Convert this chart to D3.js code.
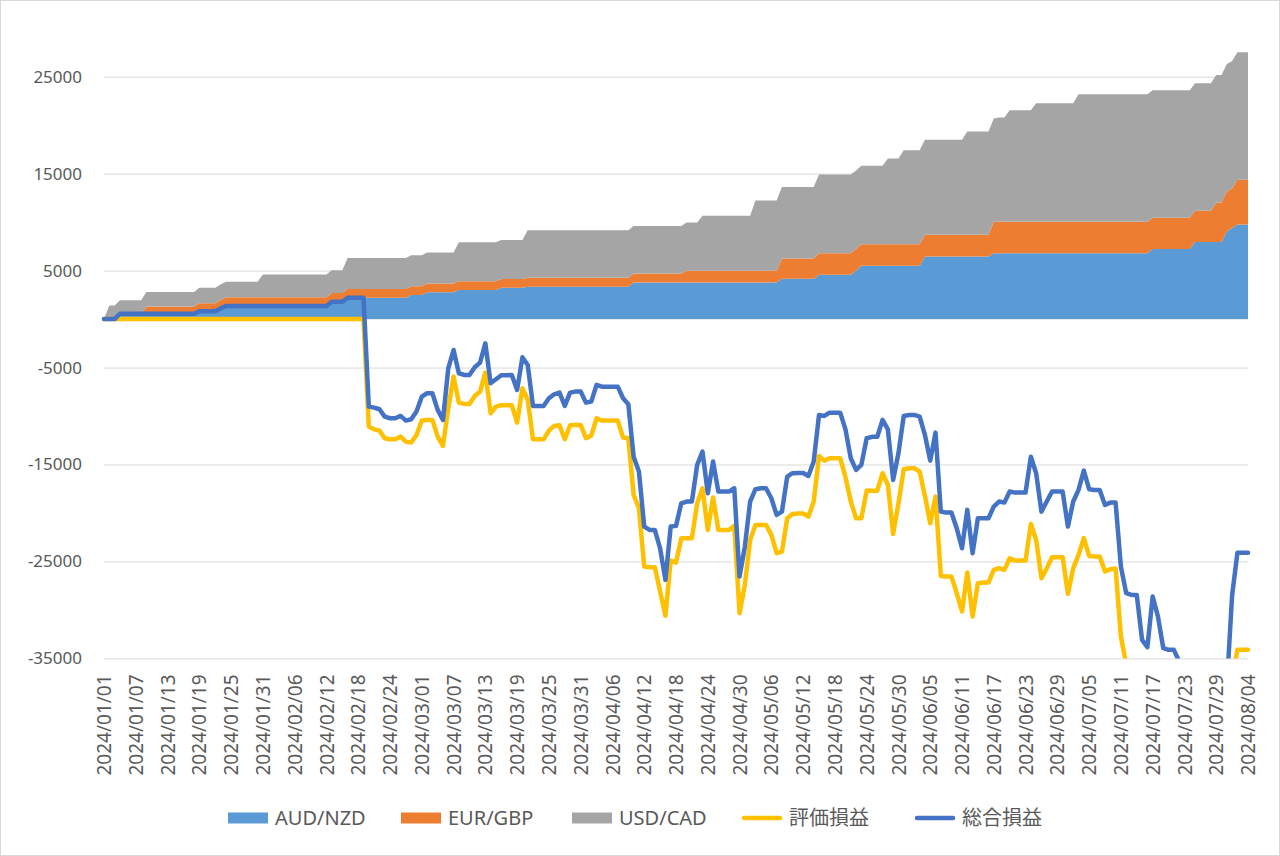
<!DOCTYPE html>
<html>
<head>
<meta charset="utf-8">
<script src="https://cdnjs.cloudflare.com/ajax/libs/d3/7.8.5/d3.min.js"></script>
<style>
    body { margin: 0; background: #fff; }
    svg text { font-family: "Noto Sans", "Noto Sans CJK JP", sans-serif; fill: #595959; }
</style>
</head>
<body>
<svg id="chart"></svg>
<script>
// one value per day, 2024/01/01 .. 2024/08/04 (217 days, 7 per row = one week)
let startDate = new Date(2024, 0, 1)
let endDate = new Date(2024, 7, 5)

let audNzd = [
    0,0,0,550,550,550,550,
    550,550,550,550,550,550,550,
    550,550,550,550,800,800,800,
    800,1100,1350,1350,1350,1350,1350,
    1350,1350,1350,1350,1350,1350,1350,
    1350,1350,1350,1350,1350,1350,1350,
    1350,1780,1780,1780,2200,2200,2200,
    2200,2200,2200,2200,2200,2200,2200,
    2200,2200,2480,2480,2480,2760,2760,
    2760,2760,2760,2760,3000,3000,3000,
    3000,3000,3000,3000,3000,3230,3230,
    3230,3230,3230,3330,3330,3330,3330,
    3330,3330,3330,3330,3330,3330,3330,
    3330,3330,3330,3330,3330,3330,3330,
    3330,3330,3770,3770,3770,3770,3770,
    3770,3770,3770,3770,3770,3770,3770,
    3770,3770,3770,3770,3770,3770,3770,
    3770,3770,3770,3770,3770,3770,3770,
    3770,3770,4150,4150,4150,4150,4150,
    4150,4150,4570,4570,4570,4570,4570,
    4570,4570,5000,5490,5490,5490,5490,
    5490,5490,5490,5490,5490,5490,5490,
    5490,6460,6460,6460,6460,6460,6460,
    6460,6460,6460,6460,6460,6460,6460,
    6800,6800,6800,6800,6800,6800,6800,
    6800,6800,6800,6800,6800,6800,6800,
    6800,6800,6800,6800,6800,6800,6800,
    6800,6800,6800,6800,6800,6800,6800,
    6800,6800,7220,7220,7220,7220,7220,
    7220,7220,7220,7940,7940,7940,7940,
    7940,7940,9070,9400,9750,9750,9750
]

let eurGbp = [
    0,0,0,0,0,0,0,
    0,750,750,750,750,750,750,
    750,750,750,750,820,820,820,
    820,870,900,900,900,900,900,
    900,900,900,900,900,900,900,
    900,900,900,900,900,900,900,
    900,900,900,900,900,900,900,
    900,900,900,900,900,900,900,
    900,900,900,900,900,900,900,
    900,900,900,900,900,900,900,
    900,900,900,900,900,900,900,
    900,900,900,930,930,930,930,
    930,930,930,930,930,930,930,
    930,930,930,930,930,930,930,
    930,930,930,930,930,930,930,
    930,930,930,930,930,1220,1220,
    1220,1220,1220,1220,1220,1220,1220,
    1220,1220,1220,1220,1220,1220,1220,
    1220,1220,2100,2100,2100,2100,2100,
    2100,2100,2230,2230,2230,2230,2230,
    2230,2230,2230,2230,2230,2230,2230,
    2230,2230,2230,2230,2230,2230,2230,
    2230,2230,2230,2230,2230,2230,2230,
    2230,2230,2230,2230,2230,2230,2230,
    3240,3240,3240,3240,3240,3240,3240,
    3240,3240,3240,3240,3240,3240,3240,
    3240,3240,3240,3240,3240,3240,3240,
    3240,3240,3240,3240,3240,3240,3240,
    3240,3240,3240,3240,3240,3240,3240,
    3240,3240,3240,3240,3240,3240,3240,
    4090,4090,4090,4090,4630,4630,4630
]

let usdCad = [
    0,1400,1400,1400,1400,1400,1400,
    1400,1500,1500,1500,1500,1500,1500,
    1500,1500,1500,1500,1600,1600,1600,
    1600,1600,1600,1600,1600,1600,1600,
    1600,1600,2350,2350,2350,2350,2350,
    2350,2350,2350,2350,2350,2350,2350,
    2350,2350,2350,2350,3200,3200,3200,
    3200,3200,3200,3200,3200,3200,3200,
    3200,3200,3200,3200,3200,3200,3200,
    3200,3200,3200,3200,4020,4020,4020,
    4020,4020,4020,4020,4020,4020,4020,
    4020,4020,4020,4900,4900,4900,4900,
    4900,4900,4900,4900,4900,4900,4900,
    4900,4900,4900,4900,4900,4900,4900,
    4900,4900,4900,4900,4900,4900,4900,
    4900,4900,4900,4900,4900,4970,4970,
    4970,5680,5680,5680,5680,5680,5680,
    5680,5680,5680,5680,7240,7240,7240,
    7240,7240,7370,7370,7370,7370,7370,
    7370,7370,8100,8100,8100,8100,8100,
    8100,8100,8100,8100,8100,8100,8100,
    8100,8850,8850,8850,9690,9690,9690,
    9690,9800,9800,9800,9800,9800,9800,
    9800,9800,10650,10650,10650,10650,10650,
    10650,10740,10740,11490,11490,11490,11490,
    11490,12210,12210,12210,12210,12210,12210,
    12210,12210,13140,13140,13140,13140,13140,
    13140,13140,13140,13140,13140,13140,13140,
    13140,13140,13140,13140,13140,13140,13140,
    13140,13140,13140,13140,13140,13140,13140,
    13140,13140,13140,13140,13140,13140,13140
]

// 評価損益
let unrealized = [
    0,0,0,0,0,0,0,
    0,0,0,0,0,0,0,
    0,0,0,0,0,0,0,
    0,0,0,0,0,0,0,
    0,0,0,0,0,0,0,
    0,0,0,0,0,0,0,
    0,0,0,0,0,0,0,
    0,-11090,-11370,-11500,-12290,-12400,-12400,
    -12120,-12640,-12740,-11950,-10470,-10400,-10400,
    -12120,-13080,-9200,-5930,-8620,-8750,-8750,
    -7930,-7480,-5520,-9720,-9030,-8890,-8890,
    -8890,-10680,-7140,-8340,-12400,-12400,-12400,
    -11500,-11020,-10950,-12400,-10950,-10920,-10920,
    -12290,-12020,-10230,-10470,-10470,-10470,-10470,
    -12220,-12290,-18140,-19510,-25530,-25590,-25590,
    -28100,-30600,-24910,-25110,-22600,-22600,-22600,
    -19000,-17450,-21750,-18410,-21750,-21750,-21750,
    -21330,-30340,-27420,-22780,-21230,-21230,-21230,
    -22260,-24150,-23980,-20540,-20100,-20050,-20050,
    -20370,-18820,-14120,-14600,-14360,-14360,-14360,
    -16310,-18820,-20540,-20540,-17690,-17700,-17700,
    -15900,-17100,-22160,-19000,-15490,-15390,-15390,
    -15730,-18240,-21060,-18310,-26490,-26560,-26560,
    -28270,-30160,-26140,-30680,-27240,-27180,-27180,
    -25870,-25700,-25870,-24670,-24910,-24910,-24910,
    -21140,-22780,-26730,-25700,-24560,-24560,-24560,
    -28340,-25700,-24320,-22600,-24430,-24490,-24490,
    -26040,-25800,-25730,-32740,-35600,-35700,-35700,
    -40300,-41000,-35800,-37900,-41200,-41300,-41300,
    -42500,-43400,-44000,-45400,-45100,-45900,-45900,
    -45500,-46100,-47000,-37100,-34100,-34100,-34100
]

// 総合損益
let total = [
    0,0,0,550,550,550,550,
    550,550,550,550,550,550,550,
    550,550,550,550,800,800,800,
    800,1100,1350,1350,1350,1350,1350,
    1350,1350,1350,1350,1350,1350,1350,
    1350,1350,1350,1350,1350,1350,1350,
    1350,1780,1780,1780,2200,2200,2200,
    2200,-9030,-9130,-9300,-10060,-10230,-10230,
    -9990,-10470,-10330,-9540,-8000,-7650,-7650,
    -9370,-10400,-5080,-3190,-5590,-5760,-5760,
    -4970,-4490,-2500,-6620,-6210,-5800,-5800,
    -5760,-7310,-3940,-4730,-8960,-8960,-8960,
    -8170,-7760,-7590,-8960,-7590,-7480,-7480,
    -8620,-8510,-6790,-6970,-6970,-6970,-6970,
    -8170,-8790,-14190,-15730,-21400,-21750,-21750,
    -23640,-26900,-21400,-21330,-19000,-18820,-18820,
    -15040,-13670,-17970,-14700,-17790,-17790,-17790,
    -17450,-26560,-23460,-18820,-17550,-17450,-17450,
    -18480,-20200,-19860,-16250,-15900,-15870,-15870,
    -16180,-14700,-9890,-9990,-9650,-9650,-9650,
    -11370,-14360,-15560,-15040,-12290,-12150,-12150,
    -10400,-11370,-16590,-13840,-9990,-9890,-9890,
    -10060,-11950,-14600,-11710,-19850,-19960,-19960,
    -21570,-23640,-19680,-24150,-20540,-20540,-20540,
    -19340,-18820,-18930,-17790,-17900,-17900,-17900,
    -14200,-15900,-19860,-18820,-17790,-17790,-17790,
    -21400,-18820,-17620,-15630,-17550,-17620,-17620,
    -19170,-18930,-18930,-25530,-28270,-28450,-28450,
    -33090,-33840,-28620,-30680,-33950,-34120,-34120,
    -35300,-36200,-36800,-37500,-37200,-38000,-38000,
    -37600,-38200,-37900,-28500,-24100,-24100,-24100
]

let areaKeys = ['AUD/NZD', 'EUR/GBP', 'USD/CAD']
let areaColors = ['#5B9BD5', '#ED7D31', '#A5A5A5']
let lineNames = ['評価損益', '総合損益']
let lineColors = ['#FFC000', '#4472C4']
let yTicks = [-35000, -25000, -15000, -5000, 5000, 15000, 25000]
let tickEvery = 6

let width = 1280
let height = 856
let left = 104
let right = 1248
let bottom = 658.4
let pxPer10k = 96.95

let svg = d3.select('#chart')
let dates = d3.timeDay.range(startDate, endDate)
let table = dates.map((d, i) => ({
    i: i,
    'AUD/NZD': audNzd[i],
    'EUR/GBP': eurGbp[i],
    'USD/CAD': usdCad[i]
}))

let xScale
let yScale

const drawCanvas = () => {
    svg.attr('width', width).attr('height', height)
    svg.append('rect')
        .attr('x', 0.5).attr('y', 0.5)
        .attr('width', width - 1).attr('height', height - 1)
        .attr('fill', '#fff').attr('stroke', '#D9D9D9')
    svg.append('defs').append('clipPath').attr('id', 'plot')
        .append('rect')
        .attr('x', left - 4).attr('y', 0)
        .attr('width', right - left + 8).attr('height', bottom)
}

const getScales = () => {
    xScale = d3.scaleLinear()
        .domain([0, dates.length - 1])
        .range([left, right])
    // -35000 sits on the bottom edge, one major unit (10000) = 96.95px
    yScale = d3.scaleLinear()
        .domain([-35000, 35000])
        .range([bottom, bottom - 7 * pxPer10k])
}

const drawGrid = () => {
    let yAxis = d3.axisLeft(yScale)
        .tickValues(yTicks)
        .tickSize(-(right - left))
        .tickFormat(d => String(d)) // plain hyphen like Excel
    let g = svg.append('g')
        .attr('transform', `translate(${left}, 0)`)
        .call(yAxis)
    g.select('.domain').remove()
    g.selectAll('line').attr('stroke', '#D9D9D9').attr('stroke-width', 1)
    g.selectAll('text')
        .attr('x', -22)
        .style('font-size', '17px')

    // category axis crosses at 0
    svg.append('line')
        .attr('x1', left).attr('x2', right)
        .attr('y1', yScale(0)).attr('y2', yScale(0))
        .attr('stroke', '#D9D9D9')
}

const drawAreas = () => {
    let stacked = d3.stack().keys(areaKeys)(table)
    let area = d3.area()
        .x(d => xScale(d.data.i))
        .y0(d => yScale(d[0]))
        .y1(d => yScale(d[1]))
    svg.append('g')
        .selectAll('path')
        .data(stacked)
        .enter()
        .append('path')
        .attr('d', area)
        .attr('fill', (d, i) => areaColors[i])
}

const drawLines = () => {
    let line = d3.line()
        .x((d, i) => xScale(i))
        .y(d => yScale(d))
    svg.append('g')
        .attr('clip-path', 'url(#plot)')
        .selectAll('path')
        .data([unrealized, total])
        .enter()
        .append('path')
        .attr('d', line)
        .attr('fill', 'none')
        .attr('stroke', (d, i) => lineColors[i])
        .attr('stroke-width', 4.5)
        .attr('stroke-linejoin', 'round')
        .attr('stroke-linecap', 'round')
}

const generateAxis = () => {
    let fmt = d3.timeFormat('%Y/%m/%d')
    let xAxis = d3.axisBottom(xScale)
        .tickValues(d3.range(0, dates.length, tickEvery))
        .tickSize(0)
        .tickFormat(i => fmt(dates[i]))
    let g = svg.append('g')
        .attr('transform', `translate(0, ${bottom})`)
        .call(xAxis)
    g.select('.domain').remove()
    g.selectAll('text')
        .style('font-size', '19px')
        .attr('text-anchor', 'end')
        .attr('transform', 'rotate(-90)')
        .attr('x', -16)
        .attr('y', 0)
        .attr('dy', '0.35em')
}

const drawLegend = () => {
    let items = [
        { name: areaKeys[0], color: areaColors[0], type: 'area', x: 228 },
        { name: areaKeys[1], color: areaColors[1], type: 'area', x: 401 },
        { name: areaKeys[2], color: areaColors[2], type: 'area', x: 572 },
        { name: lineNames[0], color: lineColors[0], type: 'line', x: 742 },
        { name: lineNames[1], color: lineColors[1], type: 'line', x: 915 }
    ]
    let ly = 818
    let g = svg.append('g')
    items.forEach(item => {
        if (item.type == 'area') {
            g.append('rect')
                .attr('x', item.x).attr('y', ly - 5.5)
                .attr('width', 40).attr('height', 11)
                .attr('fill', item.color)
        } else {
            g.append('line')
                .attr('x1', item.x + 2).attr('x2', item.x + 38)
                .attr('y1', ly).attr('y2', ly)
                .attr('stroke', item.color)
                .attr('stroke-width', 4.5)
                .attr('stroke-linecap', 'round')
        }
        g.append('text')
            .attr('x', item.x + 47)
            .attr('y', ly)
            .attr('dy', '0.35em')
            .style('font-size', '20px')
            .text(item.name)
    })
}

drawCanvas()
getScales()
drawGrid()
drawAreas()
drawLines()
generateAxis()
drawLegend()
</script>
</body>
</html>
